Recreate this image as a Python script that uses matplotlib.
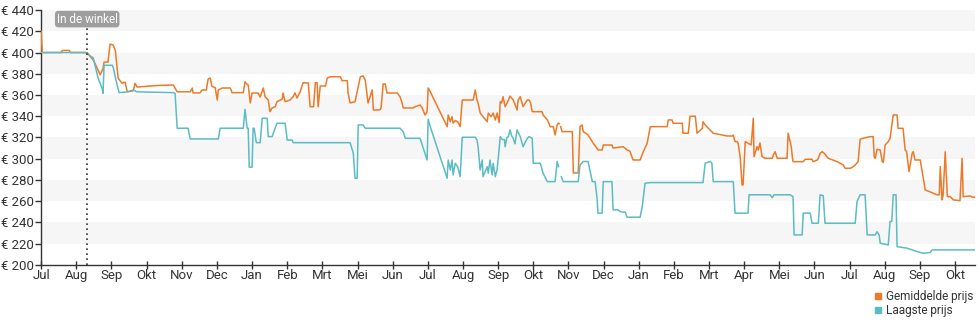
import numpy as np
import matplotlib
matplotlib.use("Agg")
import matplotlib.pyplot as plt
from matplotlib.lines import Line2D

plt.rcParams['font.family'] = ['Roboto', 'DejaVu Sans']

# maandlabels langs de x-as (positie = maandindex)
maanden = ['Jul', 'Aug', 'Sep', 'Okt', 'Nov', 'Dec', 'Jan', 'Feb', 'Mrt', 'Mei',
           'Jun', 'Jul', 'Aug', 'Sep', 'Okt', 'Nov', 'Dec', 'Jan', 'Feb', 'Mrt',
           'Apr', 'Mei', 'Jun', 'Jul', 'Aug', 'Sep', 'Okt']
y_ticks = [200, 220, 240, 260, 280, 300, 320, 340, 360, 380, 400, 420, 440]

in_de_winkel = 1.31  # moment dat het product in de winkel kwam

# gemiddelde prijs: (tijd in maanden, prijs)
gem_x = [0, 0.03, 0.57, 0.60, 0.80, 0.83, 1.31, 1.50, 1.68, 1.76, 1.79, 1.90, 1.96, 2.05, 2.11,
         2.19, 2.30, 2.35, 2.39, 2.45, 2.62, 2.67, 2.73, 3.10, 3.33, 3.76, 3.87, 4.24, 4.30, 4.32,
         4.52, 4.58, 4.70, 4.75, 4.81, 4.86, 4.95, 5.01, 5.04, 5.15, 5.38, 5.43, 5.75, 5.80, 5.86,
         5.89, 5.95, 6.00, 6.17, 6.23, 6.32, 6.37, 6.46, 6.51, 6.57, 6.66, 6.71, 6.86, 6.88, 6.94,
         7.08, 7.17, 7.22, 7.28, 7.37, 7.45, 7.60, 7.65, 7.75, 7.80, 7.85, 7.88, 7.94, 8.09, 8.14,
         8.22, 8.51, 8.56, 8.71, 8.73, 8.79, 8.93, 9.02, 9.08, 9.16, 9.22, 9.30, 9.42, 9.45, 9.64,
         9.67, 9.73, 9.79, 9.84, 10.13, 10.21, 10.27, 10.30, 10.58, 10.64, 10.78, 10.84, 10.92, 10.98,
         11.01, 11.07, 11.55, 11.58, 11.64, 11.69, 11.72, 11.78, 11.85, 11.92, 11.98, 12.29, 12.35,
         12.40, 12.43, 12.49, 12.57, 12.69, 12.72, 12.80, 12.86, 12.92, 12.97, 13.03, 13.06, 13.10,
         13.14, 13.20, 13.25, 13.34, 13.43, 13.54, 13.57, 13.63, 13.71, 13.83, 13.88, 13.92, 13.97,
         14.25, 14.28, 14.40, 14.45, 14.48, 14.57, 14.62, 14.68, 14.71, 14.74, 14.76, 14.78, 14.82,
         15.11, 15.14, 15.28, 15.33, 15.39, 15.42, 15.56, 15.70, 15.85, 15.96, 15.99, 16.24, 16.27,
         16.56, 16.67, 16.75, 16.84, 17.04, 17.13, 17.24, 17.33, 17.81, 17.84, 17.95, 17.98, 18.24,
         18.26, 18.41, 18.46, 18.61, 18.66, 18.81, 18.83, 18.89, 19.03, 19.12, 19.37, 19.52, 19.66,
         19.69, 19.74, 19.80, 19.83, 19.89, 19.94, 19.97, 20.03, 20.11, 20.20, 20.26, 20.28, 20.37,
         20.40, 20.45, 20.51, 20.60, 20.80, 20.83, 20.88, 20.94, 21.22, 21.25, 21.34, 21.37, 21.39,
         21.68, 21.74, 21.93, 21.96, 22.08, 22.11, 22.16, 22.22, 22.28, 22.39, 22.65, 22.82, 22.87,
         23.02, 23.08, 23.16, 23.24, 23.30, 23.36, 23.58, 23.67, 23.70, 23.73, 23.78, 23.87, 23.93,
         23.96, 24.01, 24.10, 24.15, 24.24, 24.35, 24.38, 24.52, 24.58, 24.62, 24.69, 24.78, 24.81,
         24.86, 25.01, 25.15, 25.49, 25.55, 25.58, 25.63, 25.66, 25.72, 25.78, 25.86, 25.95, 26.14,
         26.20, 26.23, 26.43, 26.50, 26.63]
gem_y = [420, 400, 400, 402, 402, 400, 400, 392, 379, 385, 391, 391, 408, 407, 402,
         376, 371, 372, 372, 363, 364, 371, 367.5, 368.5, 369, 369.4, 363, 363, 366.6, 362,
         362, 364.7, 364.7, 375, 376, 368, 367, 355.3, 364.7, 366.6, 366.6, 362.2, 362.2, 372.5, 370,
         369.4, 352.5, 361.9, 361.9, 358.1, 366.6, 358.4, 355.3, 344.3, 347.8, 349, 353.7, 356.2, 361.9, 353.7,
         355.3, 358.4, 362, 357.2, 363.1, 371.6, 371.3, 349, 349, 371.6, 371.6, 349, 368.5, 368.5, 376,
         377.2, 377.2, 373.5, 373.5, 361.9, 352.5, 353.7, 367.8, 377.2, 378, 374, 352.5, 364.7, 345.9, 346,
         347.8, 370.4, 370.4, 361.9, 361.9, 358.4, 352.5, 347.8, 347.8, 349, 350.6, 347.8, 341.2, 344.3,
         366.6, 363.1, 330.2, 341.2, 334.9, 339.6, 333.5, 336, 334.9, 330.2, 355.3, 355.3, 364.7,
         355.3, 352.5, 343.1, 339.6, 334.9, 343, 339.6, 343, 336.5, 343, 334, 353.7, 352.5,
         358.4, 349, 352, 359, 355.3, 345.9, 355.3, 358.4, 349, 355.3, 355.3, 353, 344.3,
         344.3, 341.2, 336.5, 333, 330.2, 330.2, 322.4, 331.8, 333.5, 333, np.nan, 330.2, 325.5,
         325.5, 286.6, 286.6, 330.2, 331.8, 325.5, 322.4, 314.8, 308.2, 308.2, 312.9, 312.9, 310.1,
         311.3, 308.2, 307, 298.8, 298.8, 306.6, 314.5, 330.2, 330.2, 336.5, 336.5, 333.4, 333.4,
         324, 324, 340, 340, 324, 328.6, 334.9, 331.8, 327.1, 324, 322.4, 321.4, 321.4,
         322.4, 316.1, 316.1, 314.5, 300.4, 275.3, 275.3, 316.1, 314.5, 313, 338.1, 301.9, 311.3,
         308.2, 314.8, 301.9, 300.4, 300.4, 303.5, 306.6, 300.4, 300.4, 324, 311.3, 301.9, 297.2,
         297.2, 299.5, 299.5, 297.2, 298.8, 300.4, 305, 306.6, 305, 300.4, 297.2, 294.1, 291,
         291, 292, 294.1, 297.2, 318.3, 319, 320.8, 320.8, 301.9, 300.4, 308.9, 308.2, 297.2,
         296.5, 312.9, 316.1, 319, 341.2, 341.2, 328.6, 328.6, 308.2, 307, 287.8, 305.1, 306.6,
         298.8, 298.8, 270.6, 266, 266, 292.5, 261.2, 266, 306.6, 264.3, 264.3, 261.2, 260.5,
         300.4, 264.3, 264.9, 263.7, 263.7]

# laagste prijs: (tijd in maanden, prijs)
laag_x = [0, 1.25, 1.48, 1.62, 1.74, 1.76, 1.79, 2.02, 2.05, 2.16, 2.22, 2.45, 2.62, 2.73, 3.76,
          3.81, 3.87, 4.18, 4.24, 5.04, 5.09, 5.75, 5.80, 5.86, 5.89, 5.92, 6.00, 6.03, 6.06, 6.12,
          6.23, 6.29, 6.43, 6.46, 6.57, 6.71, 6.94, 7.00, 7.14, 7.17, 8.79, 8.88, 8.93, 8.99, 9.02,
          9.16, 9.22, 10.21, 10.30, 10.36, 10.78, 10.92, 10.98, 11.01, 11.07, 11.49, 11.55, 11.58,
          11.64, 11.69, 11.72, 11.78, 11.85, 11.92, 11.98, 12.35, 12.40, 12.43, 12.49, 12.55, 12.57,
          12.69, 12.72, 12.77, 12.83, 12.86, 12.92, 12.97, 13.00, 13.06, 13.12, 13.18, 13.20, 13.25,
          13.29, 13.34, 13.38, 13.43, 13.48, 13.54, 13.63, 13.71, 13.83, 13.88, 13.97, 14.00, 14.20,
          14.28, 14.40, 14.62, 14.68, 14.72, 14.76, 14.80, 14.85, 15.28, 15.33, 15.42, 15.56, 15.68,
          15.76, 15.82, 15.84, 15.96, 15.99, 16.24, 16.27, 16.42, 16.47, 16.62, 16.67, 17.04, 17.10,
          17.18, 17.33, 18.83, 18.89, 19.03, 19.08, 19.12, 19.69, 19.74, 20.11, 20.14, 20.74, 20.80,
          20.85, 21.31, 21.39, 21.42, 21.65, 21.68, 21.88, 21.93, 22.11, 22.16, 22.25, 22.30, 23.16,
          23.21, 23.30, 23.44, 23.50, 23.73, 23.78, 23.84, 23.87, 24.10, 24.15, 24.20, 24.24, 24.32,
          24.35, 24.64, 24.92, 25.09, 25.29, 25.35, 26.63]
laag_y = [400, 400, 395, 376, 365.6, 361.6, 388, 388, 386, 369.4, 362.2, 363, 364.7, 363, 362.2,
          361.6, 328.7, 328.7, 318.6, 318.6, 328.7, 328.7, 346.5, 328.7, 328.7, 292, 292, 328.7, 328.7, 315.1,
          315.1, 338.1, 338.1, 320.8, 320.8, 333.4, 333.4, 317.6, 317.6, 315.1, 315.1, 305.1, 281.6, 281.6, 331.8,
          331.8, 328.7, 328.7, 325.5, 319.2, 319.2, 305.1, 298.8, 337.1, 330.2, 287.8, 281.6, 298.8,
          289.4, 298.8, 284.7, 295.7, 292.5, 283.1, 320.2, 320.2, 317.6, 311.3, 289.4, 298.8, 283.1,
          292.5, 286.3, 298.8, 284.7, 295.7, 283.1, 289.4, 298.8, 320.8, 318, 318, 311.3, 320,
          320.8, 327.1, 322, 319.2, 314, 327.1, 320.8, 311.3, 319.2, 320.8, 319.2, 295.7, 295.7,
          286.3, 278.4, 278.4, 297.4, 292.5, np.nan, 283.1, 278.4, 278.4, 294.1, 297.4, 297.4, 278.4,
          278.4, 261.2, 248.7, 248.7, 278.4, 278.4, 251.8, 251.8, 250.2, 249.5, 244.9, 244.9, 254.9,
          276.9, 277.5, 277.5, 295.7, 297.4, 296, 278.4, 278.4, 248.7, 248.7, 266, 266, 263.3,
          266, 266, 264.3, 228.2, 228.2, 248.7, 248.7, 239.2, 239.2, 266, 265, 239.2, 239.2,
          259.6, 266, 266, 228.2, 228.2, 231.3, 228.2, 220.4, 218.8, 240.8, 241, 266, 266,
          217.2, 215.7, 212.5, 211, 211.6, 214.1, 214.1]

oranje = '#ec7a28'
turquoise = '#5bbcc4'

fig = plt.figure(figsize=(9.8, 3.25), dpi=100)
ax = fig.add_axes([0.042, 0.185, 0.953, 0.784])

# afwisselende grijze banden
for onder in range(220, 440, 40):
    ax.axhspan(onder, onder + 20, color='#f6f6f6', lw=0, zorder=0)

ax.plot(gem_x, gem_y, color=oranje, lw=1.1, zorder=3)
ax.plot(laag_x, laag_y, color=turquoise, lw=1.1, zorder=3)

ax.axvline(in_de_winkel, color='#333333', lw=1.2, ls=(0, (1, 2)), zorder=4)
ax.text(in_de_winkel, 431.5, 'In de winkel', color='white', fontsize=8.5,
        ha='center', va='center', zorder=5,
        bbox=dict(boxstyle='round,pad=0.15,rounding_size=0.3', fc='#9e9e9e', ec='none'))

ax.set_xlim(0, 26.57)
ax.set_ylim(200, 440)
ax.set_xticks(range(len(maanden)))
ax.set_xticklabels(maanden)
ax.set_yticks(y_ticks)
ax.set_yticklabels(['€ %d' % v for v in y_ticks])

for kant in ['top', 'right']:
    ax.spines[kant].set_visible(False)
for kant in ['left', 'bottom']:
    ax.spines[kant].set_color('#333333')
    ax.spines[kant].set_linewidth(1.0)
ax.tick_params(axis='y', direction='out', length=4, width=1, color='#333333',
               labelsize=9.5, labelcolor='#333333', pad=1)
ax.tick_params(axis='x', direction='inout', length=6, width=1, color='#333333',
               labelsize=9.5, labelcolor='#333333', pad=0)

handles = [Line2D([], [], ls='none', marker='s', ms=5, color=oranje),
           Line2D([], [], ls='none', marker='s', ms=5, color=turquoise)]
fig.legend(handles, ['Gemiddelde prijs', 'Laagste prijs'], loc='center right',
           bbox_to_anchor=(0.994, 0.066), frameon=False, fontsize=8.5,
           handlelength=0.6, handletextpad=0.3, labelspacing=0.15,
           borderpad=0.1, borderaxespad=0, labelcolor='#333333')

fig.savefig('out.png', dpi=100)
